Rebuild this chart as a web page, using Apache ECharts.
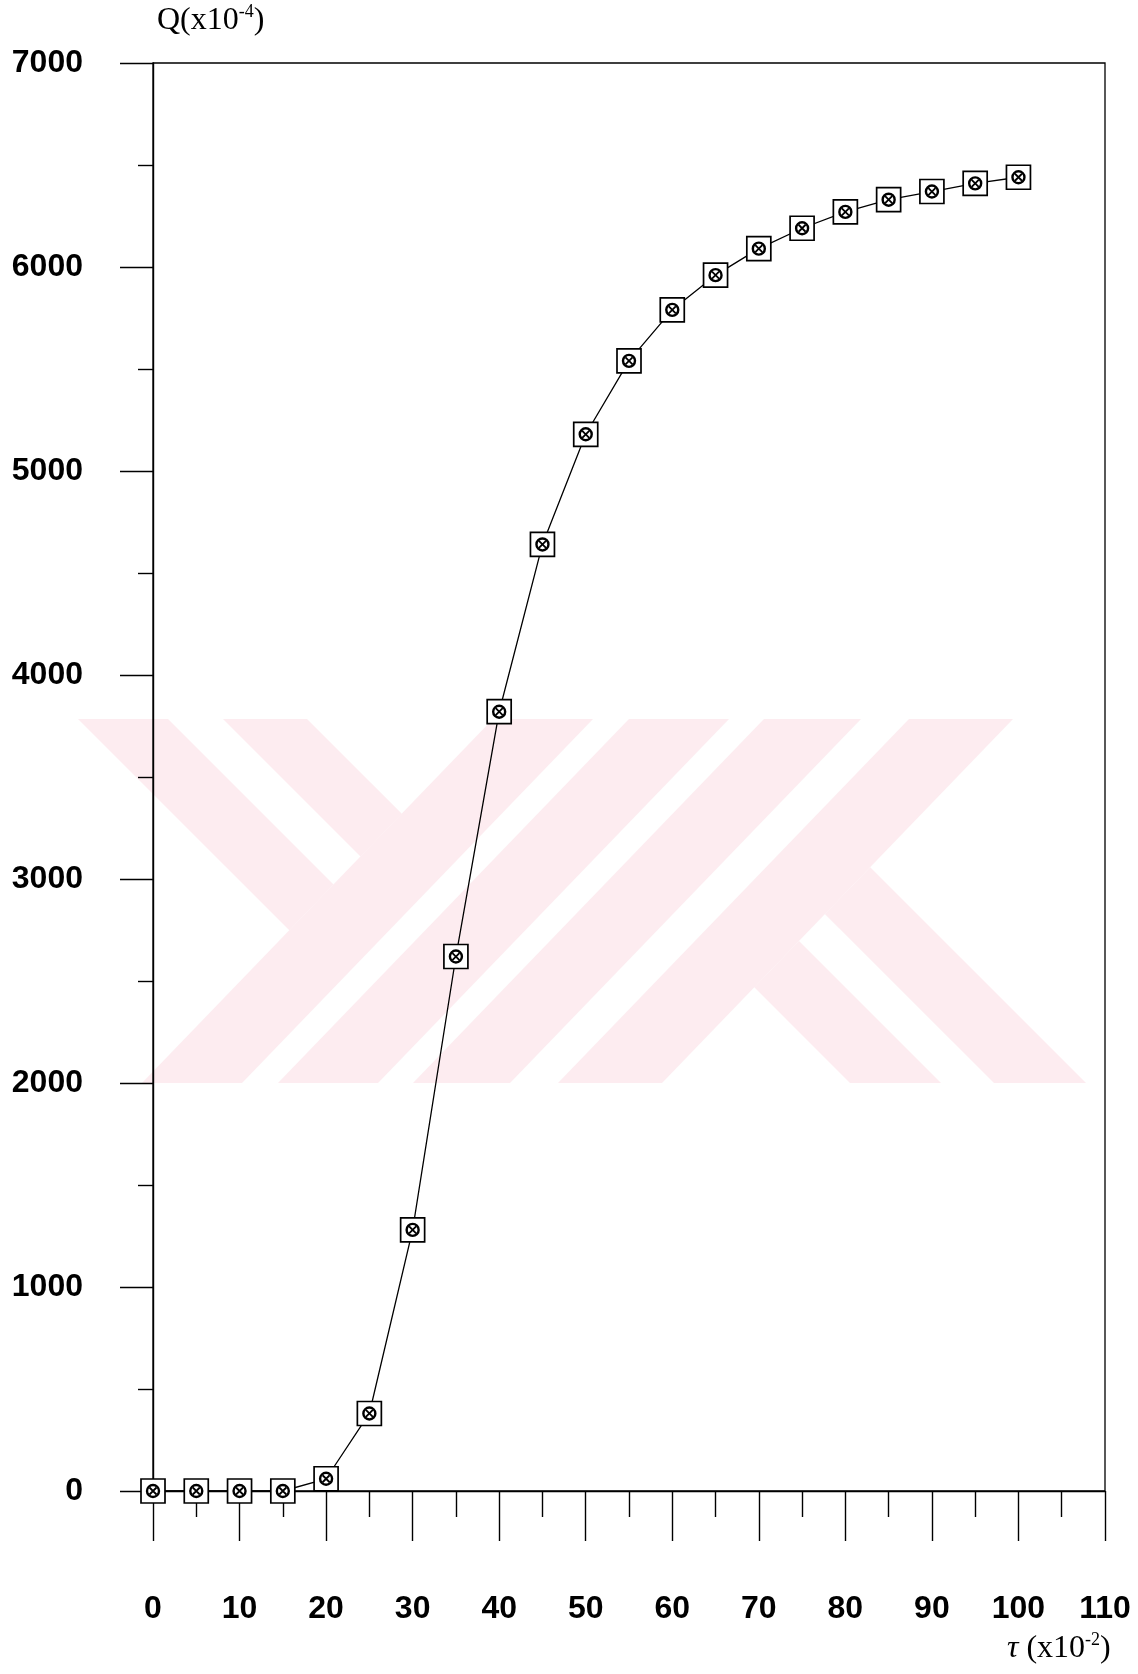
<!DOCTYPE html>
<html>
<head>
<meta charset="utf-8">
<script src="https://cdn.jsdelivr.net/npm/echarts@6/dist/echarts.min.js"></script>
<style>
html,body{margin:0;padding:0;background:#fff;}
#chart{width:1138px;height:1674px;}
</style>
</head>
<body>
<div id="chart"></div>
<script>
// ---- data ----
const tauValues = [0, 5, 10, 15, 20, 25, 30, 35, 40, 45, 50, 55, 60, 65, 70, 75, 80, 85, 90, 95, 100];
const qValues   = [0, 0, 0, 0, 60, 380, 1280, 2620, 3820, 4640, 5180, 5540, 5790, 5960, 6090, 6190, 6270, 6330, 6370, 6410, 6440];
const xTicks = [0, 10, 20, 30, 40, 50, 60, 70, 80, 90, 100, 110];
const yTicks = [0, 1000, 2000, 3000, 4000, 5000, 6000, 7000];

const points = tauValues.map((t, i) => [t, qValues[i]]);

const chart = echarts.init(document.getElementById('chart'), null, {renderer: 'canvas'});

const pink = '#fdecf0';
function poly(pts) {
  return {type: 'polygon', z: -10, silent: true, shape: {points: pts}, style: {fill: pink}};
}

const labelFont = {fontFamily: 'Liberation Sans', fontWeight: 'bold', fontSize: 32, color: '#000'};

chart.setOption({
  animation: false,
  backgroundColor: '#fff',
  grid: {left: 153, right: 33, top: 63, bottom: 183, show: true, borderColor: '#000', borderWidth: 1.3, backgroundColor: 'transparent'},
  xAxis: {
    type: 'value', min: xTicks[0], max: xTicks[xTicks.length - 1], interval: 10,
    axisLine: {show: true, onZero: false, lineStyle: {color: '#000', width: 1.4}},
    axisTick: {show: true, inside: false, length: 50, lineStyle: {color: '#000', width: 1.4}},
    minorTick: {show: true, splitNumber: 2, length: 26, lineStyle: {color: '#000', width: 1.4}},
    splitLine: {show: false},
    axisLabel: Object.assign({margin: 102, formatter: v => String(v)}, labelFont)
  },
  yAxis: {
    type: 'value', min: yTicks[0], max: yTicks[yTicks.length - 1], interval: 1000,
    axisLine: {show: true, onZero: false, lineStyle: {color: '#000', width: 1.4}},
    axisTick: {show: true, inside: false, length: 33, lineStyle: {color: '#000', width: 1.4}},
    minorTick: {show: true, splitNumber: 2, length: 15, lineStyle: {color: '#000', width: 1.4}},
    splitLine: {show: false},
    axisLabel: Object.assign({margin: 70, padding: [6, 0, 0, 0], formatter: v => String(v)}, labelFont)
  },
  graphic: [
    // watermark
    poly([[78,719],[168,719],[333.5,884.5],[289.3,930.3]]),
    poly([[223,719],[307,719],[401.8,813.8],[360.5,856.5]]),
    poly([[142,1083],[242,1083],[593,719],[493,719]]),
    poly([[278,1083],[378,1083],[729,719],[629,719]]),
    poly([[413,1083],[510,1083],[861,719],[764,719]]),
    poly([[558,1083],[662,1083],[1013,719],[909,719]]),
    poly([[850,1083],[941,1083],[799,941],[754.3,987.3]]),
    poly([[994,1083],[1086,1083],[870.2,867.2],[824.9,913.9]]),
    // axis names
    {
      type: 'text', left: 157, top: 3, z: 50,
      style: {
        text: '{a|Q(x10}{s|-4}{a|)}',
        rich: {
          a: {fontFamily: 'Liberation Serif', fontSize: 32, lineHeight: 36, fill: '#000'},
          s: {fontFamily: 'Liberation Serif', fontSize: 18, verticalAlign: 'top', lineHeight: 36, fill: '#000'}
        }
      }
    },
    {
      type: 'text', left: 1007, top: 1631, z: 50,
      style: {
        text: '{t|τ }{a|(x10}{s|-2}{a|)}',
        rich: {
          t: {fontFamily: 'Liberation Serif', fontStyle: 'italic', fontSize: 32, lineHeight: 36, fill: '#000'},
          a: {fontFamily: 'Liberation Serif', fontSize: 32, lineHeight: 36, fill: '#000'},
          s: {fontFamily: 'Liberation Serif', fontSize: 18, verticalAlign: 'top', lineHeight: 36, fill: '#000'}
        }
      }
    }
  ],
  series: [
    {
      type: 'line', data: points, z: 3,
      symbol: 'rect', symbolSize: 24, showAllSymbol: true,
      lineStyle: {color: '#000', width: 1.3},
      itemStyle: {color: '#fff', borderColor: '#000', borderWidth: 1.7}
    },
    {
      type: 'scatter', data: points, z: 4,
      symbol: 'circle', symbolSize: 12,
      itemStyle: {color: '#fff', borderColor: '#000', borderWidth: 2.4, opacity: 1}
    },
    {
      type: 'scatter', data: points, z: 5,
      symbol: 'path://M0,0L10,10M10,0L0,10', symbolSize: 7,
      itemStyle: {color: 'rgba(0,0,0,0)', borderColor: '#000', borderWidth: 1.8, opacity: 1}
    }
  ]
});
</script>
</body>
</html>
